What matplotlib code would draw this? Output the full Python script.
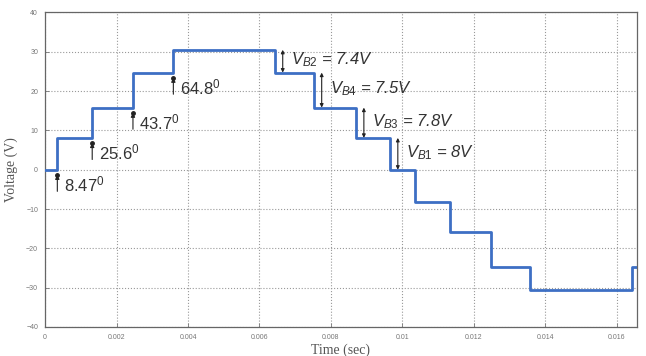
import matplotlib.pyplot as plt

plt.rcParams["font.family"] = ["Liberation Sans", "DejaVu Sans"]
plt.rcParams["mathtext.fontset"] = "custom"
plt.rcParams["mathtext.it"] = "Liberation Sans:italic"
plt.rcParams["mathtext.rm"] = "Liberation Sans"

# switching instants (s) and the voltage level that holds from each instant on
switch_times = [0, 0.000344, 0.00132, 0.00246, 0.00359, 0.00643, 0.00752,
                0.0087, 0.00965, 0.01034, 0.01133, 0.01247, 0.01357,
                0.01643, 0.01656]
voltage_levels = [0, 8.1, 15.8, 24.7, 30.5, 24.7, 15.8, 8.1, 0, -8.1,
                  -15.8, -24.7, -30.5, -24.7, -24.7]

x_ticks = [0, 0.002, 0.004, 0.006, 0.008, 0.01, 0.012, 0.014, 0.016]
x_tick_labels = ["0", "0.002", "0.004", "0.006", "0.008", "0.01", "0.012",
                 "0.014", "0.016"]
y_ticks = [-40, -30, -20, -10, 0, 10, 20, 30, 40]

# angle labels: (time of the step, level below the step)
angle_labels = ["8.47", "25.6", "43.7", "64.8"]
angle_steps = [1, 2, 3, 4]

# battery voltage labels attached to falling steps
battery_labels = [r"$V_{B2}$ = 7.4V", r"$V_{B4}$ = 7.5V",
                  r"$V_{B3}$ = 7.8V", r"$V_{B1}$ = 8V"]
battery_steps = [5, 6, 7, 8]

fig = plt.figure(figsize=(6.46, 3.56), dpi=100)
ax = fig.add_axes([0.0697, 0.0815, 0.9163, 0.8835])

ax.step(switch_times, voltage_levels, where="post", color="#3d6fc4",
        lw=2.0, zorder=3)

ax.set_xlim(0, 0.01656)
ax.set_ylim(-40, 40)
ax.set_xticks(x_ticks)
ax.set_xticklabels(x_tick_labels)
ax.set_yticks(y_ticks)
ax.tick_params(labelsize=5, colors="#777777", length=3, width=0.6,
               direction="in", pad=5)
ax.grid(True, linestyle=":", color="#999999", lw=0.8)
for s in ax.spines.values():
    s.set_color("#666666")
    s.set_linewidth(0.9)

ax.set_xlabel("Time (sec)", family="Liberation Serif", fontsize=10,
              color="#555555", labelpad=2)
ax.set_ylabel("Voltage (V)", family="Liberation Serif", fontsize=10,
              color="#555555", labelpad=6)

# rising-edge angle markers
for label, i in zip(angle_labels, angle_steps):
    t = switch_times[i]
    lo = voltage_levels[i - 1]
    ax.annotate("", xy=(t, lo - 1.3), xytext=(t, lo - 5.5),
                arrowprops=dict(arrowstyle="-|>", color="#222222", lw=0.8,
                                mutation_scale=6, shrinkA=0, shrinkB=0))
    ax.plot(t, lo - 1.3, "o", color="#222222", ms=2.5, zorder=4)
    ax.text(t + 0.00018, lo - 3.8, label + r"$^\mathregular{0}$", fontsize=12,
            color="#333333", va="center", ha="left")

# falling-edge battery voltage markers
for label, i in zip(battery_labels, battery_steps):
    t = switch_times[i] + 0.00022
    hi = voltage_levels[i - 1]
    lo = voltage_levels[i]
    ax.annotate("", xy=(t, lo), xytext=(t, hi),
                arrowprops=dict(arrowstyle="<|-|>", color="#222222", lw=0.8,
                                mutation_scale=5, shrinkA=0, shrinkB=0))
    ax.text(t + 0.00022, (hi + lo) / 2 + 0.3, label, fontsize=12,
            style="italic", color="#333333", va="center", ha="left")

fig.savefig("out.png", dpi=100)
